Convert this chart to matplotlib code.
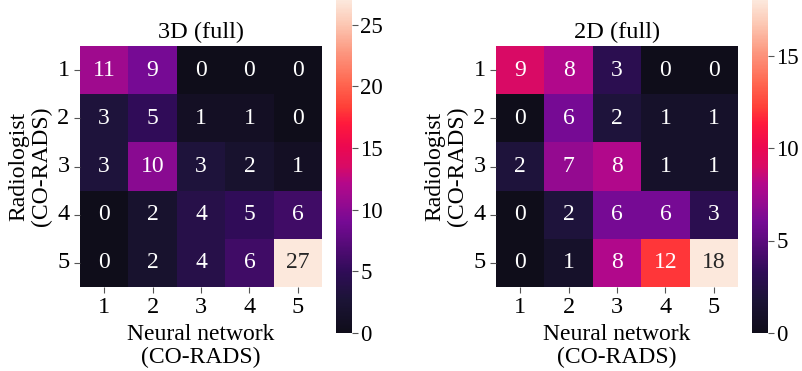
import numpy as np
import matplotlib
matplotlib.use("Agg")
import matplotlib.pyplot as plt
from matplotlib.colors import LinearSegmentedColormap
import seaborn as sns

plt.rcParams['font.family'] = ['Liberation Serif', 'DejaVu Serif']

labels = ['1', '2', '3', '4', '5']
cm_3d = np.array([[11, 9, 0, 0, 0],
                  [3, 5, 1, 1, 0],
                  [3, 10, 3, 2, 1],
                  [0, 2, 4, 5, 6],
                  [0, 2, 4, 6, 27]])
cm_2d = np.array([[9, 8, 3, 0, 0],
                  [0, 6, 2, 1, 1],
                  [2, 7, 8, 1, 1],
                  [0, 2, 6, 6, 3],
                  [0, 1, 8, 12, 18]])
titles = ['3D (full)', '2D (full)']

# colour map
stops = [(0.0, '#0f0d1a'), (0.1, '#1c1437'), (0.185, '#300c58'),
         (0.333, '#760a94'), (0.41, '#a00a8e'), (0.45, '#b4088a'),
         (0.5, '#d80a66'), (0.56, '#ec0850'), (0.63, '#ff1a3c'),
         (0.68, '#ff4038'), (0.75, '#ff6650'), (0.85, '#fc9a82'),
         (0.93, '#fcc8b4'), (1.0, '#fce8dc')]
cmap = LinearSegmentedColormap.from_list('cm', stops)

W, H = 802, 371
fig = plt.figure(figsize=(W / 100, H / 100), dpi=100)

layout = [(80, 336), (496, 752)]
for cm, title, (hx, cx) in zip([cm_3d, cm_2d], titles, layout):
    ax = fig.add_axes([hx / W, 84 / H, 242 / W, 241 / H])
    cax = fig.add_axes([cx / W, 38 / H, 16 / W, 333 / H])
    sns.heatmap(cm, ax=ax, cbar_ax=cax, cmap=cmap, annot=True, fmt='d',
                annot_kws={'fontsize': 17},
                xticklabels=labels, yticklabels=labels)
    ax.set_title(title, fontsize=17.5, pad=6)
    ax.set_xlabel('Neural network\n(CO-RADS)', fontsize=17, linespacing=1.1)
    ax.set_ylabel('Radiologist\n(CO-RADS)', fontsize=17, linespacing=1.1)
    ax.tick_params(labelsize=17.5, length=4, width=0.8, color='#555555')
    ax.set_yticklabels(labels, rotation=0)
    cax.tick_params(labelsize=16.5, length=4, width=0.8, color='#555555',
                    pad=2)

fig.savefig('out.png', dpi=100)
